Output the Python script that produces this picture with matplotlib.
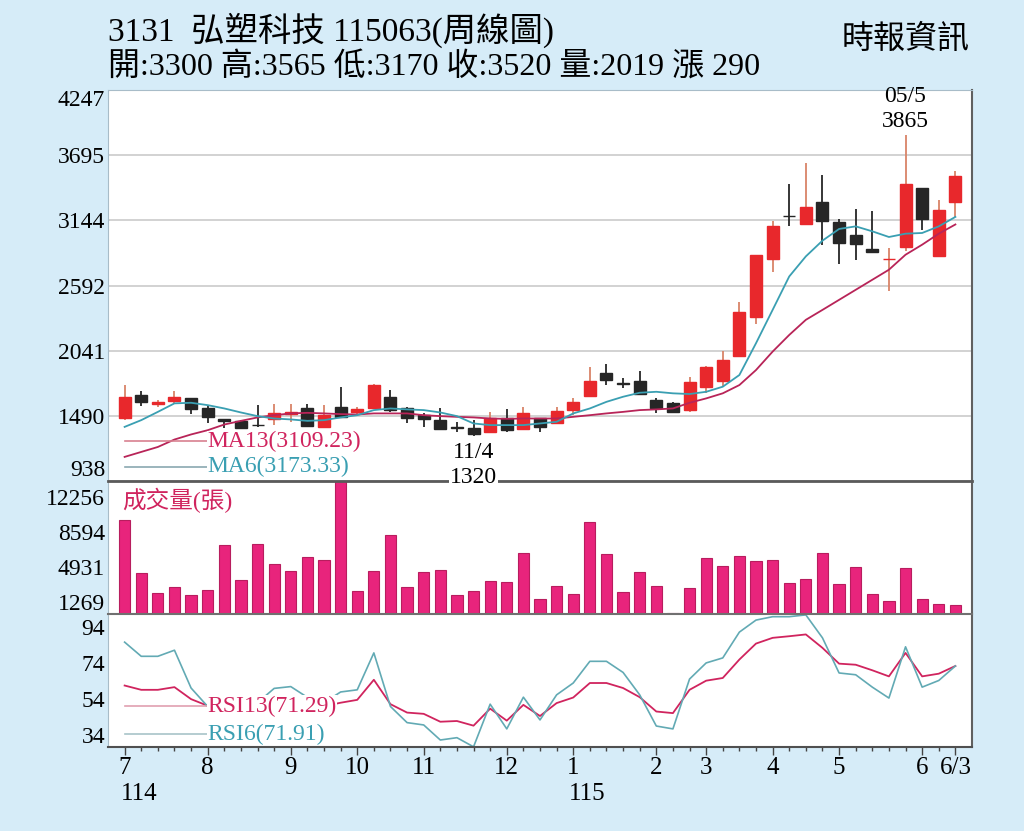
import matplotlib
matplotlib.use("Agg")
import matplotlib.pyplot as plt
import matplotlib.transforms as mtransforms
import numpy as np

# weekly candles, 114/7 .. 115/6/3
weeks = np.arange(51)
opens = [1467, 1665, 1591, 1617, 1637, 1552, 1459, 1445, 1415, 1459,
         1504, 1552, 1396, 1561, 1518, 1552, 1651, 1552, 1495, 1453,
         1395, 1388, 1354, 1467, 1377, 1467, 1433, 1538, 1657, 1849,
         1765, 1787, 1623, 1595, 1538, 1731, 1787, 1996, 2330, 2817,
         3182, 3114, 3297, 3130, 3017, 2901, 2815, 2915, 3419, 2839, 3300]
closes = [1646, 1608, 1608, 1646, 1544, 1481, 1447, 1388, 1410, 1510,
          1523, 1405, 1495, 1481, 1544, 1750, 1538, 1467, 1459, 1374,
          1390, 1332, 1472, 1368, 1510, 1396, 1529, 1606, 1787, 1792,
          1762, 1674, 1552, 1523, 1778, 1905, 1962, 2367, 2847, 3093,
          3178, 3258, 3136, 2952, 2946, 2876, 2818, 3453, 3156, 3235, 3520]
highs = [1750, 1699, 1623, 1702, 1642, 1580, 1462, 1453, 1580, 1586,
         1586, 1586, 1580, 1736, 1561, 1755, 1708, 1566, 1510, 1552,
         1439, 1453, 1518, 1544, 1566, 1472, 1566, 1637, 1905, 1926,
         1807, 1869, 1637, 1608, 1820, 1910, 2041, 2457, 2850, 3136,
         3455, 3631, 3526, 3156, 3243, 3220, 2910, 3865, 3420, 3314, 3565]
lows = [1453, 1572, 1566, 1595, 1501, 1425, 1383, 1383, 1396, 1411,
        1439, 1396, 1383, 1467, 1505, 1548, 1523, 1425, 1396, 1368,
        1354, 1320, 1340, 1354, 1368, 1349, 1425, 1495, 1650, 1750,
        1722, 1665, 1510, 1510, 1523, 1680, 1736, 1985, 2265, 2703,
        3093, 3110, 2932, 2777, 2810, 2876, 2550, 2881, 3065, 2839, 3170]

ma13 = [1142, 1184, 1226, 1289, 1332, 1368, 1416, 1447, 1476, 1495,
        1510, 1515, 1510, 1504, 1501, 1510, 1510, 1510, 1495, 1487,
        1481, 1476, 1467, 1464, 1467, 1467, 1467, 1481, 1495, 1510,
        1523, 1538, 1544, 1552, 1600, 1637, 1680, 1750, 1877, 2033,
        2174, 2302, 2386, 2471, 2556, 2641, 2726, 2853, 2938, 3031, 3109]
ma6 = [1396, 1453, 1523, 1595, 1600, 1580, 1552, 1518, 1487, 1467,
       1459, 1447, 1453, 1476, 1495, 1538, 1552, 1544, 1538, 1518,
       1487, 1425, 1411, 1411, 1411, 1425, 1439, 1510, 1552, 1608,
       1651, 1685, 1693, 1680, 1674, 1693, 1736, 1835, 2104, 2386,
       2669, 2839, 2972, 3071, 3093, 3051, 3003, 3031, 3037, 3093, 3173]

volume = [9832, 4320, 2228, 2856, 1987, 2510, 7217, 3556, 7322, 5195,
          4529, 5928, 5648, 15500, 2406, 4498, 8263, 2856, 4425, 4602,
          1953, 2437, 3452, 3347, 6412, 1569, 2962, 2092, 9657, 6310,
          2336, 4358, 2894, 150, 2753, 5823, 5021, 6067, 5544, 5648,
          3208, 3696, 6346, 3138, 4951, 2092, 1360, 4812, 1569, 1014, 941]

rsi13 = [61.6, 59.2, 59.2, 60.7, 54.0, 50.3, 49, 48, 49, 51,
         52, 51, 50, 52, 53.6, 64.8, 51.2, 46.5, 45.8, 41.4,
         41.8, 39.2, 48.7, 42.0, 50.8, 44.6, 51.8, 54.9, 63.0, 63.0,
         60.2, 55.1, 47.1, 46.2, 59.2, 64.3, 65.8, 76.1, 85.0, 88.2,
         89.1, 90.1, 82.6, 73.8, 73.2, 70.1, 66.7, 79.8, 66.7, 68.2, 72.5]
rsi6 = [85.8, 77.9, 77.9, 81.3, 60.2, 49.9, 46, 45, 52, 60,
        61, 55, 52, 58, 59.2, 79.8, 49.9, 40.9, 39.6, 31.2,
        32.5, 27.4, 51.2, 37.4, 55.1, 42.4, 56.4, 63.0, 75.1, 75.1,
        68.9, 56.4, 39.0, 37.4, 65.2, 74.2, 77.0, 91.4, 98.1, 100,
        100, 101, 88.2, 68.6, 67.6, 60.7, 54.6, 83.2, 60.7, 64.4, 72.5]

price_ticks = [938, 1490, 2041, 2592, 3144, 3695, 4247]
vol_ticks = [1269, 4931, 8594, 12256]
rsi_ticks = [34, 54, 74, 94]
month_pos = [0, 5, 10, 14, 18, 23, 27, 32, 35, 39, 43, 48, 50]
month_labels = ['7', '8', '9', '10', '11', '12', '1', '2', '3', '4', '5', '6', '6/3']

SERIF = ['Liberation Serif', 'Noto Sans CJK TC']
plt.rcParams['font.family'] = SERIF
BG = '#d6ecf8'
RED = '#e8282c'
BLK = '#262626'
PINK = '#d0245e'
TEAL = '#3a9fb2'

fig = plt.figure(figsize=(10.24, 8.31), dpi=100, facecolor=BG)


def box(top, bottom):
    return [108 / 1024, 1 - bottom / 831, 864 / 1024, (bottom - top) / 831]


ax = fig.add_axes(box(90, 481))
axv = fig.add_axes(box(481, 614))
axr = fig.add_axes(box(614, 747))
ax.set_zorder(3)
axv.set_zorder(2)
axr.set_zorder(1)

o = np.array(opens)
c = np.array(closes)
up = c >= o
body_col = np.where(up, RED, BLK)
wick_col = np.where(up, '#d98468', BLK)

# --- price panel
ax.vlines(weeks, lows, highs, colors=wick_col, lw=1.3, zorder=2)
ax.bar(weeks, np.maximum(np.abs(c - o), 2), bottom=np.minimum(o, c), width=0.72,
       color=body_col, edgecolor=body_col, lw=1, zorder=3)
ax.plot(weeks, ma13, color='#b82458', lw=1.3, zorder=4)
ax.plot(weeks, ma6, color=TEAL, lw=1.3, zorder=4)

ax.set_xlim(-1, 51)
ax.set_ylim(938, 4247)
ax.set_yticks(price_ticks)
ax.set_yticklabels([str(t) for t in price_ticks])
ax.grid(axis='y', color='#cfcfcf', lw=1.3)
ax.set_axisbelow(True)
ax.set_xticks([])
ax.tick_params(axis='y', length=0, labelsize=17, pad=2)
ylab = ax.get_yticklabels()
ylab[0].set_verticalalignment('bottom')
ylab[-1].set_verticalalignment('top')
for s in ['top', 'left']:
    ax.spines[s].set_color('#a8bcc8')
ax.spines['right'].set_color('#606060')
ax.spines['right'].set_linewidth(1.5)
ax.spines['bottom'].set_color('#5a5a5a')
ax.spines['bottom'].set_linewidth(2)

ax.plot([0.02, 0.115], [0.102, 0.102], transform=ax.transAxes, color='#d88090', lw=1.2, zorder=5)
ax.plot([0.02, 0.115], [0.036, 0.036], transform=ax.transAxes, color='#8aa8b0', lw=1.2, zorder=5)
ax.text(0.115, 0.102, 'MA13(3109.23)', transform=ax.transAxes, color=PINK, fontsize=17,
        va='center', ha='left', zorder=6, bbox=dict(fc='white', ec='none', pad=0))
ax.text(0.115, 0.036, 'MA6(3173.33)', transform=ax.transAxes, color=TEAL, fontsize=17,
        va='center', ha='left', zorder=6, bbox=dict(fc='white', ec='none', pad=0.5),
        clip_on=False)

i_lo = int(np.argmin(lows))
ax.annotate('11/4', (weeks[i_lo], lows[i_lo]), xytext=(0, -12), textcoords='offset points',
            ha='center', va='center', fontsize=17, zorder=6)
ax.annotate('1320', (weeks[i_lo], lows[i_lo]), xytext=(0, -30), textcoords='offset points',
            ha='center', va='center', fontsize=17, zorder=6, annotation_clip=False,
            bbox=dict(fc='white', ec='none', pad=0.5))
i_hi = int(np.argmax(highs))
ax.annotate('3865', (weeks[i_hi], highs[i_hi]), xytext=(0, 10), textcoords='offset points',
            ha='center', va='center', fontsize=17, zorder=6)
ax.annotate('05/5', (weeks[i_hi], highs[i_hi]), xytext=(0, 28), textcoords='offset points',
            ha='center', va='center', fontsize=17, zorder=6, annotation_clip=False)

# --- volume panel
axv.bar(weeks, volume, width=0.68, color='#e8247c', edgecolor='#b81d5e', lw=0.8)
axv.set_xlim(-1, 51)
axv.set_ylim(0, 13900)
axv.set_yticks(vol_ticks)
axv.set_yticklabels([str(t) for t in vol_ticks])
axv.set_xticks([])
axv.tick_params(axis='y', length=0, labelsize=17, pad=2)
axv.spines['top'].set_visible(False)
axv.spines['left'].set_color('#a8bcc8')
axv.spines['right'].set_color('#606060')
axv.spines['right'].set_linewidth(1.5)
axv.spines['bottom'].set_color('#707070')
axv.spines['bottom'].set_linewidth(1.5)
axv.text(0.016, 0.855, '成交量(張)', transform=axv.transAxes, color=PINK, fontsize=17,
         va='center', ha='left')

# --- RSI panel
axr.plot(weeks, rsi13, color=PINK, lw=1.3)
axr.plot(weeks, rsi6, color='#62aab4', lw=1.2)
axr.set_xlim(-1, 51)
axr.set_ylim(27.3, 101.5)
axr.set_yticks(rsi_ticks)
axr.set_yticklabels([str(t) for t in rsi_ticks])
axr.tick_params(axis='y', length=0, labelsize=17, pad=2)
axr.set_xticks(month_pos)
axr.set_xticklabels(month_labels)
axr.set_xticks(weeks, minor=True)
axr.tick_params(axis='x', which='major', length=6, width=1, labelsize=18, pad=1, color='#444444')
axr.tick_params(axis='x', which='minor', length=3, width=1, color='#444444')
axr.spines['top'].set_visible(False)
axr.spines['left'].set_color('#a8bcc8')
axr.spines['right'].set_color('#606060')
axr.spines['right'].set_linewidth(1.5)
axr.spines['bottom'].set_color('#505050')
axr.spines['bottom'].set_linewidth(1.5)

axr.plot([0.02, 0.115], [0.308, 0.308], transform=axr.transAxes, color='#e0a0b0', lw=1.2, zorder=5)
axr.plot([0.02, 0.115], [0.098, 0.098], transform=axr.transAxes, color='#a8c4c8', lw=1.2, zorder=5)
axr.text(0.115, 0.308, 'RSI13(71.29)', transform=axr.transAxes, color=PINK, fontsize=17,
         va='center', ha='left', zorder=6, bbox=dict(fc='white', ec='none', pad=0.5))
axr.text(0.115, 0.098, 'RSI6(71.91)', transform=axr.transAxes, color=TEAL, fontsize=17,
         va='center', ha='left', zorder=6, bbox=dict(fc='white', ec='none', pad=0.5))

trans = mtransforms.blended_transform_factory(axr.transData, axr.transAxes)
axr.text(month_pos[0] - 0.25, -0.35, '114', transform=trans, fontsize=18, ha='left', va='center')
axr.text(month_pos[6] - 0.25, -0.35, '115', transform=trans, fontsize=18, ha='left', va='center')

# --- header
fig.text(108 / 1024, 1 - 30 / 831, '3131  弘塑科技 115063(周線圖)', fontsize=24,
         ha='left', va='center', family=SERIF)
fig.text(108 / 1024, 1 - 68 / 831, '開:3300 高:3565 低:3170 收:3520 量:2019 漲 290', fontsize=23,
         ha='left', va='center', family=SERIF)
fig.text(970 / 1024, 1 - 40 / 831, '時報資訊', fontsize=23, ha='right', va='center', family=SERIF)

fig.savefig('out.png', dpi=100, facecolor=BG)
